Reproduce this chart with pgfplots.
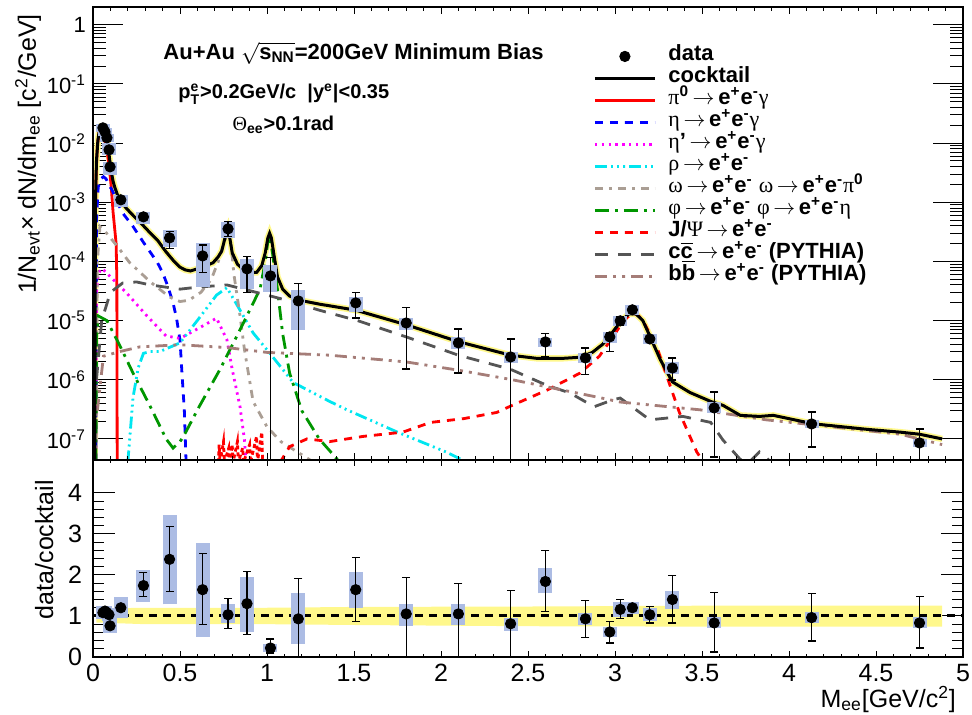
\documentclass[border=0pt]{standalone}
\usepackage{fontspec}
\setmainfont{Liberation Sans}
\newfontfamily\grk{Liberation Serif}
\usepackage{pgfplots}
\usepackage{pgfplotstable}
\pgfplotsset{compat=1.18}
\definecolor{sysblue}{RGB}{172,188,228}
\definecolor{bandyellow}{RGB}{255,248,140}
\definecolor{cEta}{RGB}{0,0,255}
\definecolor{cEtap}{RGB}{255,0,255}
\definecolor{cRho}{RGB}{0,230,240}
\definecolor{cOmega}{RGB}{170,158,148}
\definecolor{cPhi}{RGB}{0,150,0}
\definecolor{cCC}{RGB}{85,85,85}
\definecolor{cBB}{RGB}{165,125,120}
\newcommand{\g}[1]{{\grk\mdseries #1}}
\newcommand{\ep}{e\textsuperscript{+}e\textsuperscript{-}}
\newcommand{\ar}{\,$\rightarrow$\,}

\pgfplotstableread{
x y
0.010 4e-8
0.014 1e-3
0.020 5e-3
0.028 1.1e-2
0.036 1.6e-2
0.045 1.85e-2
0.055 1.8e-2
0.065 1.6e-2
0.075 1.3e-2
0.085 9.5e-3
0.095 5.5e-3
0.105 3.3e-3
0.115 2.3e-3
0.125 1.8e-3
0.14 1.35e-3
0.16 1.05e-3
0.19 8.0e-4
0.23 6.0e-4
0.29 4.0e-4
0.33 3.0e-4
0.37 2.3e-4
0.42 1.45e-4
0.46 1.05e-4
0.50 8.0e-5
0.53 7.2e-5
0.56 6.9e-5
0.60 7.5e-5
0.65 8.5e-5
0.69 9.5e-5
0.72 1.2e-4
0.74 1.5e-4
0.76 2.6e-4
0.775 3.5e-4
0.787 2.4e-4
0.80 1.4e-4
0.83 9.0e-5
0.87 7.0e-5
0.90 6.5e-5
0.94 6.5e-5
0.97 8.5e-5
0.99 1.4e-4
1.005 2.5e-4
1.015 3.0e-4
1.025 2.5e-4
1.04 1.3e-4
1.06 5.5e-5
1.09 3.4e-5
1.13 2.6e-5
1.19 2.2e-5
1.30 1.9e-5
1.51 1.5e-5
1.80 8.5e-6
2.10 4.4e-6
2.40 2.6e-6
2.55 2.3e-6
2.70 2.3e-6
2.80 2.4e-6
2.87 2.9e-6
2.93 4.0e-6
2.97 5.5e-6
3.03 9.5e-6
3.08 1.3e-5
3.12 1.3e-5
3.16 1.0e-5
3.20 5.5e-6
3.26 2.2e-6
3.33 9.2e-7
3.43 6.1e-7
3.55 4.3e-7
3.62 3.7e-7
3.72 2.5e-7
3.83 2.4e-7
3.91 2.5e-7
4.14 1.8e-7
4.45 1.45e-7
4.64 1.3e-7
4.75 1.2e-7
4.88 1.0e-7
}\cocktail

\pgfplotstableread{
x y
0.057 1.81e-2
0.069 1.55e-2
0.080 1.23e-2
0.092 7.7e-3
0.098 3.97e-3
0.16 1.10e-3
0.29 5.67e-4
0.44 2.50e-4
0.63 1.24e-4
0.776 3.55e-4
0.885 7.48e-5
1.02 5.70e-5
1.18 2.15e-5
1.51 1.99e-5
1.80 9.1e-6
2.10 4.2e-6
2.40 2.43e-6
2.60 4.36e-6
2.83 2.34e-6
2.97 5.3e-6
3.03 9.9e-6
3.10 1.52e-5
3.20 4.9e-6
3.33 1.58e-6
3.57 3.34e-7
4.13 1.79e-7
4.75 8.55e-8
}\datatab

\pgfplotstableread{
x y
0.057 1.08
0.069 1.12
0.080 1.08
0.092 1.03
0.098 0.76
0.16 1.20
0.29 1.74
0.44 2.38
0.63 1.64
0.776 1.03
0.885 1.30
1.02 0.22
1.18 0.93
1.51 1.64
1.80 1.05
2.10 1.05
2.40 0.81
2.60 1.84
2.83 0.93
2.97 0.61
3.03 1.16
3.10 1.20
3.20 1.03
3.33 1.40
3.57 0.83
4.13 0.96
4.75 0.83
}\ratiotab

\pgfplotsset{
  framestyle/.style={
    scale only axis, width=435pt, xmin=0, xmax=5,
    axis line style={line width=1pt},
    every tick/.style={black, line width=0.5pt},
    tick align=inside, xtick pos=both, ytick pos=both,
  },
}

\begin{document}
\begin{tikzpicture}
\begin{axis}[
  framestyle, name=upper, height=226.5pt,
  ymode=log, ymin=4.4e-8, ymax=2,
  xtick=\empty,
  ytick={1e-7,1e-6,1e-5,1e-4,1e-3,1e-2,1e-1,1},
  yticklabels={10\textsuperscript{-7},10\textsuperscript{-6},10\textsuperscript{-5},10\textsuperscript{-4},10\textsuperscript{-3},10\textsuperscript{-2},10\textsuperscript{-1},1},
  yticklabel style={font=\fontsize{11}{12}\selectfont},
  major tick length=15pt, minor tick length=6.5pt,
  ylabel={1/N\textsubscript{evt}× dN/dm\textsubscript{ee} [c\textsuperscript{2}/GeV]},
  every axis y label/.style={at={([xshift=-28.5pt]rel axis cs:0,1)}, anchor=base east, rotate=90, font=\fontsize{12.5}{14}\selectfont},
  unbounded coords=jump,
  legend style={at={(0.5747,0.916)}, anchor=north west, draw=none, fill=none,
    font=\bfseries\fontsize{11}{12}\selectfont, inner sep=0pt, row sep=0pt, column sep=6pt,
    nodes={inner sep=0pt, text height=7.5pt, text depth=3.5pt}},
  legend cell align=left,
  legend image code/.code={\draw[mark repeat=2,mark phase=2,#1] plot coordinates {(0pt,0pt) (15pt,0pt) (30pt,0pt)};},
]
% cocktail band
\addplot[bandyellow, line width=3.2pt, forget plot] table {\cocktail};
% pi0
\addplot[red, line width=1.4pt, forget plot] coordinates {(0.008,4e-8) (0.012,2e-4) (0.018,3e-3) (0.025,9e-3) (0.035,1.5e-2) (0.045,1.6e-2) (0.055,1.5e-2) (0.065,1.2e-2) (0.075,9e-3) (0.085,6e-3) (0.095,3.5e-3) (0.105,1.8e-3) (0.115,7e-4) (0.125,3.5e-4) (0.133,2e-4) (0.137,5e-5) (0.139,4e-8)};
% eta
\addplot[cEta, line width=1.4pt, dash pattern=on 4pt off 3.5pt, forget plot] coordinates {(0.017,4e-8) (0.02,5e-4) (0.03,1.8e-3) (0.045,2.5e-3) (0.06,2.7e-3) (0.075,2.5e-3) (0.09,2.0e-3) (0.11,1.6e-3) (0.14,1.0e-3) (0.17,6.6e-4) (0.23,3.9e-4) (0.29,2.1e-4) (0.37,9.6e-5) (0.40,6.5e-5) (0.43,3.8e-5) (0.46,2.0e-5) (0.48,1.1e-5) (0.50,4.7e-6) (0.51,1.5e-6) (0.525,3e-7) (0.535,4e-8)};
% eta'
\addplot[cEtap, line width=1.4pt, dash pattern=on 1.2pt off 2.2pt, forget plot] coordinates {(0.017,4e-8) (0.02,3e-5) (0.03,6e-5) (0.045,7.5e-5) (0.06,7.2e-5) (0.1,5.5e-5) (0.19,3e-5) (0.31,1.2e-5) (0.42,5.5e-6) (0.5,5e-6) (0.61,7.5e-6) (0.71,1.1e-5) (0.77,4.7e-6) (0.80,1.5e-6) (0.845,3.5e-7) (0.87,9.8e-8) (0.88,4e-8)};
% rho
\addplot[cRho, line width=1.4pt, dash pattern=on 6pt off 2pt on 1pt off 2pt on 1pt off 2pt on 1pt off 2pt, forget plot] coordinates {(0.20,4e-8) (0.23,5e-7) (0.26,1.6e-6) (0.29,2.8e-6) (0.33,3.0e-6) (0.385,3.0e-6) (0.5,4.2e-6) (0.61,1.1e-5) (0.71,2.7e-5) (0.77,3.6e-5) (0.845,1.5e-5) (0.92,6.2e-6) (1.03,2.5e-6) (1.15,9e-7) (1.36,4.3e-7) (1.46,3.1e-7) (1.75,1.3e-7) (2.03,6e-8) (2.15,4e-8)};
% omega
\addplot[cOmega, line width=1.4pt, dash pattern=on 4pt off 3pt on 1.5pt off 3pt, forget plot] coordinates {(0.017,4e-8) (0.025,1e-4) (0.04,3.9e-4) (0.07,3.2e-4) (0.14,1.8e-4) (0.21,9.6e-5) (0.33,4.5e-5) (0.44,2.5e-5) (0.5,2.1e-5) (0.55,2.2e-5) (0.62,3e-5) (0.68,5e-5) (0.72,1e-4) (0.755,2.2e-4) (0.78,3.2e-4) (0.795,1.8e-4) (0.81,6e-5) (0.845,1.2e-5) (0.87,3.3e-6) (0.92,4.3e-7) (1.0,1.6e-7) (1.08,9e-8) (1.27,4e-8)};
% phi
\addplot[cPhi, line width=1.4pt, dash pattern=on 7pt off 3pt on 1.5pt off 3pt, forget plot] coordinates {(0.017,4e-8) (0.02,5e-6) (0.03,1.2e-5) (0.08,1.0e-5) (0.15,4e-6) (0.23,1.3e-6) (0.33,3.5e-7) (0.42,1e-7) (0.46,7e-8) (0.5,9e-8) (0.52,1.1e-7) (0.61,3.5e-7) (0.73,1.5e-6) (0.845,7e-6) (0.96,3.4e-5) (0.99,1e-4) (1.006,2.3e-4) (1.015,2.8e-4) (1.03,1.5e-4) (1.06,3.4e-5) (1.09,6e-6) (1.13,1.3e-6) (1.2,3e-7) (1.3,1e-7) (1.42,4e-8)};
% J/psi (low-mass statistical noise, then the peak)
\addplot[red, line width=1.4pt, dash pattern=on 2pt off 1.5pt, forget plot] coordinates {(0.72,4e-8) (0.725,8e-8) (0.73,4e-8) (0.75,9e-8) (0.755,4e-8) (0.78,7e-8) (0.785,4e-8) (0.80,8e-8) (0.805,4e-8) (0.83,9e-8) (0.835,4e-8) (0.86,7e-8) (0.865,4e-8) (0.90,8e-8) (0.905,4e-8) (0.94,1.1e-7) (0.945,4e-8) (0.97,1.3e-7) (0.975,4e-8)};
\addplot[red, line width=1.4pt, dash pattern=on 4pt off 3.5pt, forget plot] coordinates {(1.075,4e-8) (1.13,7.4e-8) (1.23,1.0e-7) (1.36,9e-8) (1.55,1.1e-7) (1.78,1.3e-7) (1.94,1.9e-7) (2.13,2.2e-7) (2.32,2.8e-7) (2.41,3.7e-7) (2.61,6.7e-7) (2.80,1.3e-6) (2.91,2.5e-6) (3.0,6e-6) (3.05,1.0e-5) (3.1,1.35e-5) (3.13,1.25e-5) (3.16,1.0e-5) (3.24,3.6e-6) (3.30,1.1e-6) (3.37,2.8e-7) (3.47,6e-8) (3.51,4e-8)};
% ccbar
\addplot[cCC, line width=1.4pt, dash pattern=on 6.5pt off 5pt, forget plot] coordinates {(0.02,1e-6) (0.05,1e-5) (0.1,3e-5) (0.17,4.3e-5) (0.25,4.5e-5) (0.33,4e-5) (0.5,3.4e-5) (0.61,3.7e-5) (0.77,4e-5) (0.92,3.1e-5) (1.09,2.3e-5) (1.3,1.5e-5) (1.52,1.0e-5) (1.80,5.3e-6) (2.10,2.6e-6) (2.40,1.5e-6) (2.61,8e-7) (2.74,6e-7) (2.88,3.5e-7) (2.99,4.6e-7) (3.03,4.9e-7) (3.2,2.1e-7) (3.39,2.4e-7) (3.55,1.9e-7) (3.62,9.6e-8) (3.72,4.5e-8) (3.77,4e-8) (3.83,6e-8) (3.9,4e-8)};
% bbbar
\addplot[cBB, line width=1.4pt, dash pattern=on 6pt off 3pt on 1.5pt off 3pt on 1.5pt off 3pt, forget plot] coordinates {(0.025,3e-7) (0.06,2.5e-6) (0.155,3e-6) (0.27,3.6e-6) (0.5,3.9e-6) (0.77,3.5e-6) (1.0,2.9e-6) (1.36,2.6e-6) (1.80,2.0e-6) (2.10,1.45e-6) (2.41,1.0e-6) (2.91,5e-7) (3.03,4.2e-7) (3.49,3.1e-7) (3.87,2.1e-7) (4.25,1.6e-7) (4.64,1.2e-7) (4.88,8e-8)};
% cocktail
\addplot[black, line width=1.5pt, forget plot] table {\cocktail};
% systematic boxes
\addplot[sysblue, line width=7pt, forget plot] coordinates {
(0.057,1.55e-2)(0.057,2.1e-2)(0.057,nan)
(0.069,1.3e-2)(0.069,1.8e-2)(0.069,nan)
(0.080,1.05e-2)(0.080,1.45e-2)(0.080,nan)
(0.092,6.3e-3)(0.092,1.0e-2)(0.092,nan)
(0.098,2.9e-3)(0.098,4.8e-3)(0.098,nan)
(0.16,8.4e-4)(0.16,1.33e-3)(0.16,nan)
(0.29,4.3e-4)(0.29,6.9e-4)(0.29,nan)
(0.44,1.76e-4)(0.44,3.4e-4)(0.44,nan)
(0.63,3.7e-5)(0.63,2.06e-4)(0.63,nan)
(0.776,2.5e-4)(0.776,4.67e-4)(0.776,nan)
(0.885,3.4e-5)(0.885,1.10e-4)(0.885,nan)
(1.02,3.05e-5)(1.02,8.7e-5)(1.02,nan)
(1.18,7.0e-6)(1.18,3.3e-5)(1.18,nan)
(1.51,1.4e-5)(1.51,2.5e-5)(1.51,nan)
(1.80,7.0e-6)(1.80,1.11e-5)(1.80,nan)
(2.10,3.3e-6)(2.10,5.3e-6)(2.10,nan)
(2.40,1.93e-6)(2.40,2.96e-6)(2.40,nan)
(2.60,3.6e-6)(2.60,5.1e-6)(2.60,nan)
(2.83,1.93e-6)(2.83,2.84e-6)(2.83,nan)
(2.97,4.2e-6)(2.97,6.44e-6)(2.97,nan)
(3.03,8.1e-6)(3.03,1.2e-5)(3.03,nan)
(3.10,1.25e-5)(3.10,1.84e-5)(3.10,nan)
(3.20,4.04e-6)(3.20,5.96e-6)(3.20,nan)
(3.33,1.26e-6)(3.33,2.0e-6)(3.33,nan)
(3.57,2.75e-7)(3.57,4.2e-7)(3.57,nan)
(4.13,1.53e-7)(4.13,2.1e-7)(4.13,nan)
(4.75,7.3e-8)(4.75,1.0e-7)
};
% statistical bars
\addplot[black, line width=0.6pt, mark=-, mark size=2pt, mark options={solid}, forget plot] coordinates {
(0.44,1.64e-4)(0.44,3.2e-4)(0.44,nan)
(0.63,6.4e-5)(0.63,1.9e-4)(0.63,nan)
(0.776,2.6e-4)(0.776,4.8e-4)(0.776,nan)
(0.885,3.0e-5)(0.885,1.2e-4)(0.885,nan)
(1.02,1e-9)(1.02,1.15e-4)(1.02,nan)
(1.18,1e-9)(1.18,4.3e-5)(1.18,nan)
(1.51,1.11e-5)(1.51,2.94e-5)(1.51,nan)
(1.80,1.52e-6)(1.80,1.64e-5)(1.80,nan)
(2.10,1.3e-6)(2.10,7.2e-6)(2.10,nan)
(2.40,1e-9)(2.40,4.9e-6)(2.40,nan)
(2.60,2.43e-6)(2.60,5.96e-6)(2.60,nan)
(2.83,1.21e-6)(2.83,3.45e-6)(2.83,nan)
(2.97,2.96e-6)(2.97,6.2e-6)(2.97,nan)
(3.03,8.3e-6)(3.03,1.18e-5)(3.03,nan)
(3.33,9.9e-7)(3.33,2.34e-6)(3.33,nan)
(3.57,4.95e-8)(3.57,6.2e-7)(3.57,nan)
(4.13,7.3e-8)(4.13,2.86e-7)(4.13,nan)
(4.75,1e-9)(4.75,1.47e-7)
};
\addplot[only marks, mark=*, mark size=2.6pt, black, forget plot] table {\datatab};
% annotations
\node[anchor=base west, font=\bfseries\fontsize{11}{12}\selectfont, inner sep=0pt] at (rel axis cs:0.0805,0.885) {Au+Au $\sqrt{\mbox{s\textsubscript{NN}}}$=200GeV Minimum Bias};
\node[anchor=base west, font=\bfseries\fontsize{10}{11}\selectfont, inner sep=0pt] at (rel axis cs:0.0977,0.797) {$\mbox{p}^{\mbox{\fontsize{7}{8}\selectfont e}}_{\mbox{\fontsize{7}{8}\selectfont T}}$>0.2GeV/c\ \ |y\textsuperscript{e}|<0.35};
\node[anchor=base west, font=\bfseries\fontsize{10}{11}\selectfont, inner sep=0pt] at (rel axis cs:0.16,0.728) {\g{Θ}\textsubscript{ee}>0.1rad};
% legend
\addlegendimage{only marks, mark=*, mark size=2.6pt, black}
\addlegendentry{data}
\addlegendimage{black, line width=1.5pt}
\addlegendentry{cocktail}
\addlegendimage{red, line width=1.4pt}
\addlegendentry{\g{π}\textsuperscript{0}\ar\ep\g{γ}}
\addlegendimage{cEta, line width=1.4pt, dash pattern=on 4pt off 3.5pt}
\addlegendentry{\g{η}\ar\ep\g{γ}}
\addlegendimage{cEtap, line width=1.4pt, dash pattern=on 1.2pt off 2.2pt}
\addlegendentry{\g{η}'\ar\ep\g{γ}}
\addlegendimage{cRho, line width=1.4pt, dash pattern=on 6pt off 2pt on 1pt off 2pt on 1pt off 2pt on 1pt off 2pt}
\addlegendentry{\g{ρ}\ar\ep}
\addlegendimage{cOmega, line width=1.4pt, dash pattern=on 4pt off 3pt on 1.5pt off 3pt}
\addlegendentry{\g{ω}\ar\ep\ \g{ω}\ar\ep\g{π}\textsuperscript{0}}
\addlegendimage{cPhi, line width=1.4pt, dash pattern=on 7pt off 3pt on 1.5pt off 3pt}
\addlegendentry{\g{φ}\ar\ep\ \g{φ}\ar\ep\g{η}}
\addlegendimage{red, line width=1.4pt, dash pattern=on 4pt off 3.5pt}
\addlegendentry{J/\g{Ψ}\ar\ep}
\addlegendimage{cCC, line width=1.4pt, dash pattern=on 6.5pt off 5pt}
\addlegendentry{c$\overline{\mbox{c}}$\ar\ep\ (PYTHIA)}
\addlegendimage{cBB, line width=1.4pt, dash pattern=on 6pt off 3pt on 1.5pt off 3pt on 1.5pt off 3pt}
\addlegendentry{b$\overline{\mbox{b}}$\ar\ep\ (PYTHIA)}
\end{axis}
% x ticks of the upper panel (short ticks)
\begin{axis}[
  framestyle, at={(upper.south west)}, anchor=south west, height=226.5pt,
  ymin=0, ymax=1, ytick=\empty,
  xtick={0,0.5,1,1.5,2,2.5,3,3.5,4,4.5,5}, minor x tick num=4, xticklabels={},
  major tick length=3.5pt, minor tick length=2pt,
]
\end{axis}

\begin{axis}[
  framestyle, name=lower, at={(upper.south west)}, anchor=north west, height=98.5pt,
  ymin=0, ymax=4.8, xtick=\empty,
  ytick={0,1,2,3,4}, yticklabels={0,1,2,3,4}, minor y tick num=4,
  yticklabel style={font=\fontsize{12.5}{14}\selectfont, xshift=-2pt},
  major tick length=11pt, minor tick length=5.5pt,
  ylabel={data/cocktail},
  every axis y label/.style={at={([xshift=-20pt,yshift=-6.5pt]rel axis cs:0,1)}, anchor=base east, rotate=90, font=\fontsize{12.5}{14}\selectfont},
  unbounded coords=jump,
]
\addplot[fill=bandyellow, draw=none, forget plot] coordinates {(0.02,1.18) (0.3,1.2) (1.0,1.2) (1.5,1.22) (2.5,1.23) (3.5,1.25) (4.88,1.25) (4.88,0.74) (3.5,0.74) (2.5,0.75) (1.5,0.78) (1.0,0.8) (0.3,0.8) (0.02,0.84)} -- cycle;
\addplot[black, line width=1.5pt, dash pattern=on 4pt off 3pt, forget plot] coordinates {(0,1) (5,1)};
\addplot[sysblue, line width=7pt, forget plot] coordinates {
(0.057,0.92)(0.057,1.25)(0.057,nan)
(0.069,0.98)(0.069,1.25)(0.069,nan)
(0.080,0.95)(0.080,1.2)(0.080,nan)
(0.092,0.88)(0.092,1.18)(0.092,nan)
(0.098,0.59)(0.098,1.03)(0.098,nan)
(0.16,0.96)(0.16,1.45)(0.16,nan)
(0.29,1.35)(0.29,2.13)(0.29,nan)
(0.44,1.28)(0.44,3.46)(0.44,nan)
(0.63,0.49)(0.63,2.77)(0.63,nan)
(0.776,0.83)(0.776,1.28)(0.776,nan)
(0.885,0.61)(0.885,1.94)(0.885,nan)
(1.02,0.12)(1.02,0.32)(1.02,nan)
(1.18,0.32)(1.18,1.55)(1.18,nan)
(1.51,1.2)(1.51,2.06)(1.51,nan)
(1.80,0.76)(1.80,1.30)(1.80,nan)
(2.10,0.79)(2.10,1.30)(2.10,nan)
(2.40,0.64)(2.40,0.96)(2.40,nan)
(2.60,1.55)(2.60,2.18)(2.60,nan)
(2.83,0.79)(2.83,1.08)(2.83,nan)
(2.97,0.49)(2.97,0.74)(2.97,nan)
(3.03,0.98)(3.03,1.33)(3.03,nan)
(3.10,1.05)(3.10,1.33)(3.10,nan)
(3.20,0.88)(3.20,1.2)(3.20,nan)
(3.33,1.18)(3.33,1.62)(3.33,nan)
(3.57,0.71)(3.57,0.98)(3.57,nan)
(4.13,0.83)(4.13,1.1)(4.13,nan)
(4.75,0.71)(4.75,0.98)
};
\addplot[black, line width=0.6pt, mark=-, mark size=2pt, mark options={solid}, forget plot] coordinates {
(0.29,1.47)(0.29,2.06)(0.29,nan)
(0.44,1.6)(0.44,3.17)(0.44,nan)
(0.63,0.79)(0.63,2.53)(0.63,nan)
(0.776,0.69)(0.776,1.42)(0.776,nan)
(0.885,0.54)(0.885,2.09)(0.885,nan)
(1.02,0.10)(1.02,0.44)(1.02,nan)
(1.18,-0.2)(1.18,1.91)(1.18,nan)
(1.51,0.86)(1.51,2.43)(1.51,nan)
(1.80,-0.2)(1.80,1.94)(1.80,nan)
(2.10,-0.2)(2.10,1.79)(2.10,nan)
(2.40,-0.2)(2.40,1.62)(2.40,nan)
(2.60,1.1)(2.60,2.6)(2.60,nan)
(2.83,0.47)(2.83,1.37)(2.83,nan)
(2.97,0.34)(2.97,0.86)(2.97,nan)
(3.03,0.93)(3.03,1.4)(3.03,nan)
(3.20,0.83)(3.20,1.23)(3.20,nan)
(3.33,0.83)(3.33,1.99)(3.33,nan)
(3.57,0.12)(3.57,1.57)(3.57,nan)
(4.13,0.39)(4.13,1.55)(4.13,nan)
(4.75,0.22)(4.75,1.47)
};
\addplot[only marks, mark=*, mark size=2.6pt, black, forget plot] table {\ratiotab};
\end{axis}
% x ticks, tick labels and x label of the lower panel (short ticks)
\begin{axis}[
  framestyle, at={(lower.south west)}, anchor=south west, height=98.5pt,
  ymin=0, ymax=1, ytick=\empty,
  xtick={0,0.5,1,1.5,2,2.5,3,3.5,4,4.5,5}, minor x tick num=4,
  xticklabels={0,0.5,1,1.5,2,2.5,3,3.5,4,4.5,5},
  xticklabel style={font=\fontsize{12.5}{14}\selectfont},
  major tick length=3pt, minor tick length=1.5pt,
  xlabel={M\textsubscript{ee}[GeV/c\textsuperscript{2}]},
  every axis x label/.style={at={([yshift=-25pt]rel axis cs:1,0)}, anchor=base east, font=\fontsize{12.5}{14}\selectfont},
]
\end{axis}
\pgfresetboundingbox
\path ([xshift=-46.5pt,yshift=3.5pt]upper.north west) rectangle ([xshift=439.5pt,yshift=-354pt]upper.north west);
\end{tikzpicture}
\end{document}
